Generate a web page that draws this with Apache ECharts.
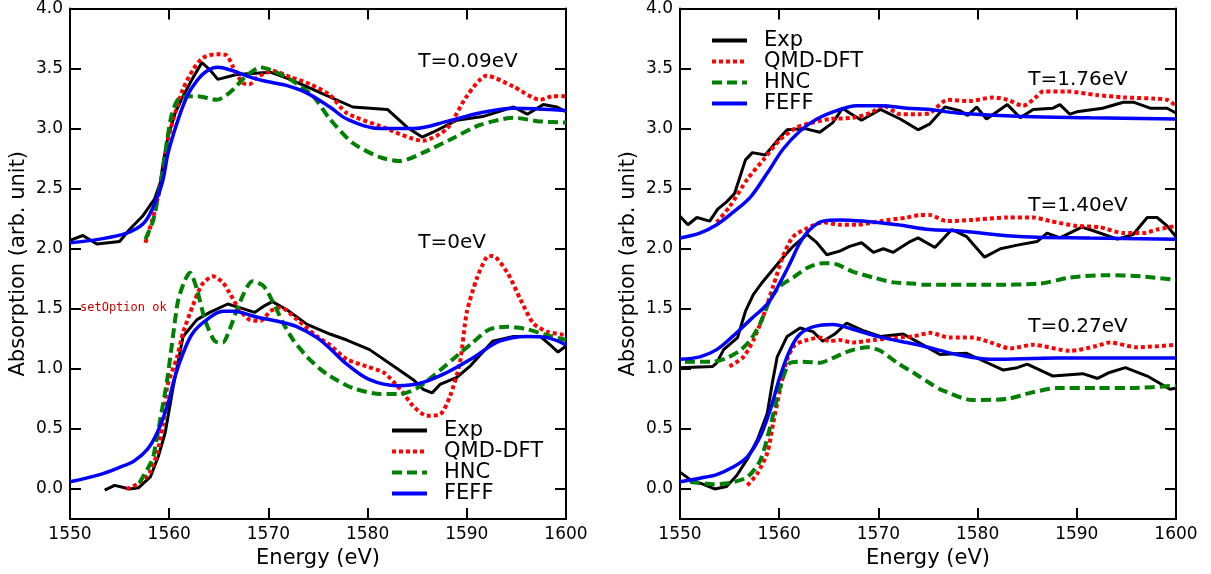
<!DOCTYPE html>
<html>
<head>
<meta charset="utf-8">
<script src="https://cdn.jsdelivr.net/npm/echarts@6/dist/echarts.min.js"></script>
<style>html,body{margin:0;padding:0;background:#fff}#c{width:1211px;height:574px}#err{position:absolute;left:80px;top:300px;width:480px;color:#c00;font:12px monospace;white-space:pre-wrap}</style>
</head>
<body>
<div id="c"></div>
<div id="err"></div>
<script>
window.onerror = function (m, s, l, c, e) { document.getElementById('err').textContent += 'ONERR: ' + m + ' @' + l + ':' + c + '\n' + (e && e.stack ? e.stack.slice(0, 600) : '') + '\n'; };
const _ce = console.error;
console.error = function () { try { document.getElementById('err').textContent += 'CONSOLE: ' + Array.from(arguments).map(a => (a && a.stack) ? a.stack.slice(0, 600) : String(a)).join(' ') + '\n'; } catch (x) {} _ce.apply(console, arguments); };
const _cw = console.warn;
console.warn = function () { try { document.getElementById('err').textContent += 'WARN: ' + Array.from(arguments).map(String).join(' ').slice(0, 300) + '\n'; } catch (x) {} _cw.apply(console, arguments); };

// ---------- data ----------
const seriesNames = ['Exp', 'QMD-DFT', 'HNC', 'FEFF'];
const xTicks = [1550, 1560, 1570, 1580, 1590, 1600];
const yTicks = [0, 0.5, 1.0, 1.5, 2.0, 2.5, 3.0, 3.5, 4.0];

const L009_exp = [[1550,2.07],[1551.3,2.11],[1552.7,2.04],[1555.0,2.06],[1556.0,2.16],[1557.3,2.27],[1558.5,2.41],[1559.1,2.55],[1559.4,2.72],[1559.9,2.94],[1560.6,3.13],[1561.4,3.27],[1562.3,3.41],[1563.3,3.55],[1564.1,3.49],[1564.9,3.41],[1566.8,3.45],[1570.2,3.47],[1572.2,3.41],[1575.5,3.29],[1578.5,3.18],[1582.0,3.16],[1584.0,3.01],[1585.5,2.93],[1586.6,2.97],[1589.0,3.07],[1591.6,3.10],[1594.7,3.18],[1596.1,3.12],[1597.7,3.20],[1599.1,3.18],[1600,3.14]];
const L009_qmd = [[1557.6,2.05],[1558.5,2.30],[1559.4,2.63],[1559.9,2.91],[1560.6,3.13],[1561.4,3.33],[1562.4,3.49],[1563.4,3.59],[1564.8,3.62],[1565.8,3.61],[1566.4,3.52],[1567.4,3.38],[1568.1,3.37],[1568.9,3.43],[1570.5,3.48],[1572.2,3.43],[1574.2,3.37],[1576.2,3.28],[1577.9,3.13],[1581.3,3.02],[1585.6,2.90],[1588.0,3.0],[1590.0,3.27],[1592.0,3.44],[1594.7,3.35],[1597.4,3.24],[1598.7,3.27],[1600,3.27]];
const L009_hnc = [[1557.6,2.08],[1558.4,2.24],[1559.3,2.63],[1559.8,2.91],[1560.3,3.13],[1561.1,3.26],[1562.8,3.27],[1564.8,3.24],[1566.1,3.30],[1567.8,3.44],[1569.2,3.51],[1570.5,3.48],[1572.2,3.41],[1574.5,3.27],[1576.2,3.08],[1578.5,2.88],[1581.3,2.76],[1583.3,2.73],[1585.6,2.80],[1588.6,2.92],[1591.3,3.03],[1594.7,3.09],[1597.4,3.06],[1600,3.05]];
const L009_feff = [[1550,2.05],[1553.0,2.08],[1555.7,2.13],[1557.4,2.21],[1558.4,2.35],[1559.3,2.55],[1559.9,2.80],[1560.8,3.05],[1561.8,3.27],[1562.8,3.40],[1563.8,3.48],[1564.9,3.51],[1566.1,3.49],[1567.8,3.44],[1569.4,3.40],[1571.8,3.36],[1573.8,3.30],[1576.2,3.18],[1577.9,3.08],[1581.3,3.0],[1584.6,3.0],[1588.0,3.06],[1591.3,3.13],[1594.7,3.17],[1600,3.15]];
const L0_exp = [[1553.5,-0.01],[1554.5,0.03],[1555.5,0.01],[1556.0,0.0],[1556.9,0.01],[1558.1,0.10],[1558.9,0.27],[1559.6,0.47],[1560.4,0.85],[1561.4,1.27],[1562.8,1.41],[1564.1,1.47],[1565.9,1.54],[1567.1,1.51],[1568.6,1.47],[1569.5,1.52],[1570.4,1.56],[1571.9,1.49],[1573.9,1.37],[1576.2,1.29],[1577.9,1.24],[1580.2,1.16],[1583.0,1.0],[1584.6,0.91],[1585.6,0.83],[1586.5,0.80],[1587.3,0.87],[1589.0,0.93],[1590.3,1.02],[1592.6,1.23],[1594.7,1.27],[1597.4,1.27],[1598.4,1.20],[1599.2,1.14],[1600,1.19]];
const L0_qmd = [[1555.7,0.0],[1556.8,0.04],[1558.0,0.13],[1558.8,0.30],[1559.4,0.55],[1559.8,0.85],[1560.8,1.10],[1561.4,1.30],[1562.4,1.53],[1563.3,1.70],[1564.4,1.77],[1565.4,1.72],[1566.1,1.63],[1567.1,1.49],[1568.1,1.41],[1569.2,1.40],[1570.2,1.48],[1571.2,1.51],[1572.9,1.41],[1574.9,1.27],[1576.2,1.20],[1577.9,1.08],[1579.9,1.02],[1581.6,0.97],[1583.3,0.83],[1584.6,0.69],[1586.0,0.61],[1587.3,0.62],[1588.3,0.77],[1589.3,1.05],[1590.0,1.47],[1591.0,1.75],[1592.0,1.93],[1592.6,1.94],[1594.1,1.80],[1595.4,1.58],[1596.7,1.38],[1598.1,1.31],[1600,1.28]];
const L0_hnc = [[1557.0,0.05],[1558.1,0.21],[1558.4,0.27],[1559.1,0.58],[1559.8,0.91],[1560.3,1.22],[1560.9,1.57],[1561.6,1.74],[1562.1,1.80],[1562.8,1.66],[1563.6,1.41],[1564.6,1.23],[1565.4,1.22],[1566.1,1.33],[1567.1,1.55],[1568.4,1.73],[1569.5,1.69],[1570.5,1.55],[1571.5,1.38],[1572.5,1.24],[1573.9,1.10],[1575.2,1.0],[1576.2,0.94],[1578.5,0.84],[1581.3,0.79],[1583.3,0.79],[1585.0,0.84],[1586.6,0.94],[1588.6,1.08],[1590.6,1.22],[1592.3,1.33],[1594.1,1.35],[1596.1,1.33],[1598.1,1.28],[1600,1.24]];
const L0_feff = [[1550,0.06],[1553.0,0.12],[1555.0,0.18],[1556.4,0.23],[1557.8,0.33],[1558.8,0.47],[1559.8,0.69],[1560.6,0.94],[1561.4,1.13],[1562.4,1.30],[1563.8,1.41],[1565.4,1.48],[1566.4,1.48],[1568.9,1.43],[1571.2,1.39],[1572.9,1.35],[1574.9,1.26],[1576.2,1.17],[1577.9,1.04],[1580.2,0.91],[1583.0,0.86],[1585.3,0.88],[1588.0,0.97],[1590.6,1.09],[1593.3,1.23],[1596.1,1.27],[1598.1,1.26],[1600,1.20]];
const R176_exp = [[1550,2.27],[1550.8,2.20],[1551.7,2.26],[1553.0,2.23],[1553.8,2.33],[1554.7,2.39],[1555.5,2.46],[1556.6,2.74],[1557.3,2.80],[1558.6,2.78],[1559.8,2.90],[1560.8,2.99],[1562.6,3.0],[1564.1,2.97],[1565.4,3.05],[1566.4,3.17],[1567.1,3.13],[1568.3,3.07],[1570.2,3.16],[1572.2,3.08],[1574.0,2.99],[1575.2,3.04],[1576.7,3.18],[1578.2,3.15],[1579.0,3.11],[1579.9,3.18],[1580.9,3.08],[1583.0,3.20],[1584.3,3.09],[1585.6,3.16],[1587.6,3.17],[1588.3,3.20],[1589.3,3.12],[1590.0,3.14],[1592.6,3.17],[1594.7,3.22],[1595.7,3.22],[1597.4,3.17],[1599.1,3.17],[1600,3.13]];
const R176_qmd = [[1553.7,2.22],[1555.0,2.35],[1556.8,2.58],[1558.4,2.74],[1560.1,2.91],[1561.8,3.01],[1563.4,3.05],[1565.1,3.08],[1567.4,3.09],[1569.2,3.13],[1570.5,3.19],[1572.2,3.12],[1574.2,3.12],[1575.2,3.13],[1577.0,3.24],[1579.2,3.23],[1581.6,3.26],[1583.0,3.24],[1584.6,3.19],[1586.0,3.27],[1586.6,3.31],[1589.0,3.31],[1592.0,3.28],[1594.7,3.26],[1597.7,3.25],[1599.1,3.24],[1600,3.19]];
const R176_feff = [[1550,2.09],[1552.0,2.13],[1553.7,2.20],[1555.3,2.30],[1557.1,2.43],[1558.8,2.63],[1560.4,2.83],[1562.1,2.98],[1563.8,3.08],[1565.8,3.15],[1567.8,3.19],[1570.2,3.19],[1572.9,3.17],[1575.2,3.16],[1577.9,3.13],[1584.6,3.10],[1591.3,3.09],[1600,3.08]];
const R140_exp = [[1550,1.01],[1553.3,1.02],[1553.7,1.05],[1554.4,1.16],[1555.8,1.26],[1556.6,1.48],[1557.4,1.62],[1558.2,1.71],[1559.1,1.80],[1560.1,1.90],[1561.4,2.02],[1562.8,2.12],[1563.8,2.05],[1564.8,1.95],[1566.1,1.98],[1567.1,2.02],[1568.3,2.05],[1569.5,1.97],[1570.5,2.00],[1571.5,1.97],[1573.2,2.06],[1574.0,2.09],[1575.7,2.01],[1577.4,2.16],[1578.9,2.10],[1580.7,1.93],[1582.3,2.0],[1584.0,2.03],[1586.0,2.06],[1587.0,2.13],[1588.3,2.09],[1590.5,2.18],[1591.3,2.16],[1594.1,2.08],[1595.7,2.12],[1597.1,2.26],[1598.1,2.26],[1599.1,2.19],[1600,2.10]];
const R140_qmd = [[1555.0,1.02],[1556.4,1.10],[1557.4,1.24],[1558.4,1.44],[1559.4,1.69],[1560.4,1.94],[1561.4,2.10],[1562.8,2.17],[1564.4,2.22],[1566.1,2.20],[1567.8,2.20],[1570.2,2.23],[1572.9,2.26],[1574.2,2.28],[1575.2,2.28],[1576.9,2.23],[1579.5,2.24],[1583.0,2.26],[1585.6,2.26],[1587.3,2.23],[1590.0,2.19],[1592.3,2.18],[1594.7,2.13],[1596.7,2.13],[1598.1,2.16],[1600,2.19]];
const R140_hnc = [[1550.5,1.06],[1553.3,1.06],[1554.7,1.09],[1556.0,1.15],[1557.1,1.24],[1558.1,1.38],[1559.1,1.58],[1560.1,1.69],[1561.4,1.76],[1562.8,1.84],[1564.4,1.88],[1565.8,1.87],[1567.4,1.81],[1569.5,1.76],[1571.5,1.72],[1573.5,1.71],[1574.5,1.70],[1581.3,1.70],[1586.3,1.71],[1589.3,1.76],[1593.0,1.78],[1596.4,1.77],[1600,1.74]];
const R140_feff = [[1550,1.08],[1552.0,1.10],[1553.7,1.16],[1555.3,1.27],[1557.1,1.41],[1558.9,1.55],[1560.1,1.72],[1561.1,1.88],[1562.1,2.05],[1563.1,2.16],[1564.4,2.23],[1566.1,2.24],[1568.4,2.23],[1571.9,2.20],[1575.2,2.16],[1577.9,2.15],[1584.6,2.10],[1591.3,2.09],[1600,2.08]];
const R027_exp = [[1550,0.14],[1551.0,0.08],[1552.3,0.04],[1553.5,0.0],[1554.7,0.02],[1555.7,0.11],[1556.8,0.25],[1557.8,0.41],[1558.8,0.63],[1559.3,0.88],[1559.8,1.10],[1560.8,1.27],[1562.1,1.34],[1563.4,1.31],[1564.4,1.23],[1565.6,1.29],[1566.8,1.38],[1568.4,1.32],[1570.2,1.27],[1572.5,1.29],[1574.5,1.20],[1576.2,1.12],[1578.9,1.13],[1580.2,1.08],[1582.6,0.99],[1584.0,1.01],[1585.0,1.04],[1587.6,0.94],[1590.6,0.96],[1592.1,0.92],[1593.3,0.97],[1594.9,1.01],[1597.1,0.94],[1599.4,0.83],[1600,0.84]];
const R027_qmd = [[1556.8,0.03],[1557.8,0.13],[1558.8,0.30],[1559.4,0.55],[1560.1,0.83],[1560.8,1.08],[1561.6,1.20],[1562.8,1.24],[1564.1,1.26],[1565.1,1.23],[1566.1,1.24],[1567.4,1.22],[1569.5,1.24],[1571.9,1.26],[1573.5,1.27],[1575.2,1.30],[1577.2,1.26],[1579.5,1.26],[1581.3,1.22],[1583.3,1.17],[1585.6,1.20],[1589.3,1.15],[1592.0,1.19],[1593.3,1.22],[1596.1,1.18],[1600,1.20]];
const R027_hnc = [[1551.0,0.06],[1553.3,0.04],[1555.0,0.05],[1556.8,0.10],[1558.1,0.24],[1559.1,0.52],[1560.1,0.85],[1561.1,1.05],[1562.4,1.06],[1564.1,1.05],[1565.4,1.09],[1567.1,1.15],[1568.9,1.18],[1570.2,1.15],[1571.9,1.05],[1573.5,0.97],[1575.2,0.88],[1576.2,0.83],[1579.5,0.74],[1583.0,0.75],[1585.3,0.80],[1588.0,0.84],[1592.0,0.84],[1595.4,0.84],[1600,0.86]];
const R027_feff = [[1550,0.06],[1552.0,0.09],[1553.7,0.12],[1555.3,0.18],[1556.8,0.27],[1558.1,0.44],[1559.1,0.66],[1560.1,0.94],[1561.1,1.16],[1562.1,1.29],[1563.4,1.35],[1565.4,1.37],[1567.4,1.33],[1569.9,1.27],[1572.2,1.23],[1574.5,1.19],[1577.9,1.12],[1581.3,1.08],[1588.0,1.09],[1600,1.09]];

const leftLabels = [[1585.1, 3.56, 'T=0.09eV'], [1585.1, 2.05, 'T=0eV']];
const rightLabels = [[1585.1, 3.41, 'T=1.76eV'], [1585.1, 2.36, 'T=1.40eV'], [1585.1, 1.35, 'T=0.27eV']];

// ---------- chart ----------
const FONT = 'DejaVu Sans';
const styles = {
  'Exp':     {color: '#000000', width: 3,   type: 'solid', smooth: false},
  'QMD-DFT': {color: '#ff0000', width: 4,   type: [4, 3],  smooth: 0.25},
  'HNC':     {color: '#008000', width: 4,   type: [10, 5], smooth: 0.25},
  'FEFF':    {color: '#0000ff', width: 3.5, type: 'solid', smooth: 0.35}
};
function line(name, data, g) {
  const s = styles[name];
  return {
    type: 'line', name: name, data: data, xAxisIndex: g * 2, yAxisIndex: g * 2,
    symbol: 'none', showSymbol: false, smooth: s.smooth,
    lineStyle: {color: s.color, width: s.width, type: s.type},
    itemStyle: {color: s.color}, animation: false, silent: true
  };
}
function labels(arr, g) {
  return {
    type: 'scatter', name: 'lab' + g, xAxisIndex: g * 2, yAxisIndex: g * 2,
    symbolSize: 0, silent: true, animation: false, itemStyle: {opacity: 1},
    data: arr.map(a => ({value: [a[0], a[1]], name: a[2]})),
    label: {show: true, position: 'right', distance: 0, formatter: '{b}', fontSize: 20, color: '#000', fontFamily: FONT}
  };
}
const TICK = {show: true, inside: true, length: 11, lineStyle: {color: '#000', width: 2}};
function xAxes(g) {
  const base = {gridIndex: g, type: 'value', min: 1550, max: 1600, interval: 10,
    axisLine: {onZero: false, lineStyle: {color: '#000', width: 2}}, axisTick: TICK, splitLine: {show: false}};
  return [
    Object.assign({}, base, {position: 'bottom',
      axisLabel: {fontSize: 17, color: '#000', margin: 7, fontFamily: FONT, formatter: v => String(v)},
      name: 'Energy (eV)', nameLocation: 'middle', nameGap: 25,
      nameTextStyle: {fontSize: 21, color: '#000', fontFamily: FONT}}),
    Object.assign({}, base, {position: 'top', axisLabel: {show: false}})
  ];
}
function yAxes(g) {
  const base = {gridIndex: g, type: 'value', min: -0.25, max: 4.0,
    axisLine: {onZero: false, lineStyle: {color: '#000', width: 2}},
    axisTick: Object.assign({}, TICK, {customValues: yTicks}), splitLine: {show: false}};
  return [
    Object.assign({}, base, {position: 'left',
      axisLabel: {fontSize: 17, color: '#000', margin: 7, fontFamily: FONT, customValues: yTicks, formatter: v => Number(v).toFixed(1)},
      name: 'Absorption (arb. unit)', nameLocation: 'middle', nameGap: 41,
      nameTextStyle: {fontSize: 21, color: '#000', fontFamily: FONT}}),
    Object.assign({}, base, {position: 'right', axisLabel: {show: false}})
  ];
}
function legend(left, top) {
  return {left: left, top: top, orient: 'vertical', data: seriesNames,
    itemWidth: 35, itemHeight: 12, itemGap: 0, selectedMode: false,
    itemStyle: {opacity: 0}, lineStyle: {width: 4},
    textStyle: {fontSize: 21, lineHeight: 21, color: '#000', fontFamily: FONT, padding: [0, 0, 0, 12]}};
}
const series = [
  line('Exp', L009_exp, 0), line('QMD-DFT', L009_qmd, 0), line('HNC', L009_hnc, 0), line('FEFF', L009_feff, 0),
  line('Exp', L0_exp, 0), line('QMD-DFT', L0_qmd, 0), line('HNC', L0_hnc, 0), line('FEFF', L0_feff, 0),
  line('Exp', R176_exp, 1), line('QMD-DFT', R176_qmd, 1), line('FEFF', R176_feff, 1),
  line('Exp', R140_exp, 1), line('QMD-DFT', R140_qmd, 1), line('HNC', R140_hnc, 1), line('FEFF', R140_feff, 1),
  line('Exp', R027_exp, 1), line('QMD-DFT', R027_qmd, 1), line('HNC', R027_hnc, 1), line('FEFF', R027_feff, 1),
  labels(leftLabels, 0), labels(rightLabels, 1)
];
const chart = echarts.init(document.getElementById('c'));
try {
  chart.setOption({
    animation: false,
    textStyle: {fontFamily: FONT},
    grid: [{left: 70, top: 8, width: 496, height: 511}, {left: 680, top: 8, width: 496, height: 511}],
    xAxis: xAxes(0).concat(xAxes(1)),
    yAxis: yAxes(0).concat(yAxes(1)),
    legend: [legend(385, 415), legend(705, 25)],
    series: series
  });
  document.getElementById('err').textContent += 'setOption ok\n';
} catch (e) {
  document.getElementById('err').textContent += 'CAUGHT: ' + e.message + '\n' + (e.stack || '').slice(0, 800) + '\n';
}
</script>
</body>
</html>
